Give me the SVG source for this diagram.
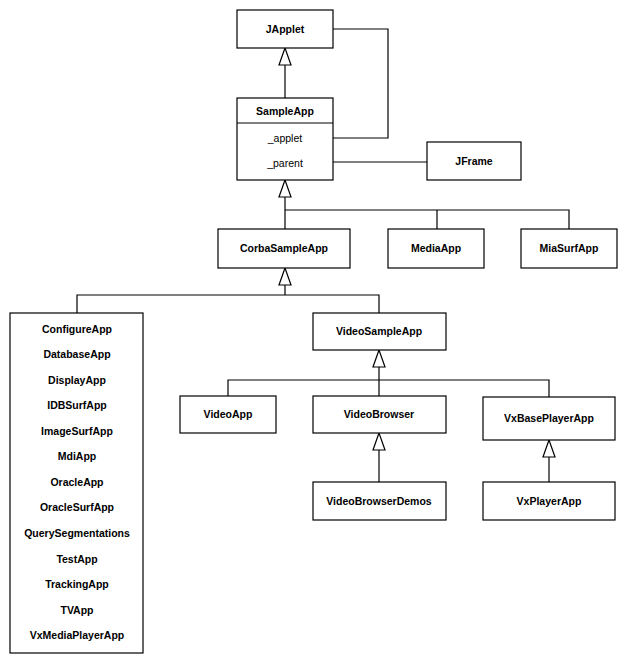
<svg xmlns="http://www.w3.org/2000/svg" width="626" height="664" viewBox="0 0 626 664">
<defs>
<style>
.box{fill:#fff;stroke:#000;stroke-width:1.2}
.ln{fill:none;stroke:#000;stroke-width:1.2}
.tri{fill:#fff;stroke:#000;stroke-width:1.2}
text{font-family:"Liberation Sans",Arial,sans-serif;font-size:10.5px;font-weight:bold;text-anchor:middle;fill:#000}
text.n{font-weight:normal}
</style>
</defs>
<rect width="626" height="664" fill="#fff"/>
<g id="connectors">
<path class="ln" d="M285,65 V98"/>
<path class="tri" d="M285,48 L279,65 L291,65 Z"/>
<path class="ln" d="M333,29 H388 V138 H333"/>
<path class="ln" d="M333,162 H427"/>
<path class="ln" d="M285,197 V229 M285,210 H569 V229 M437,210 V229"/>
<path class="tri" d="M285,180 L279,197 L291,197 Z"/>
<path class="ln" d="M285,285 V295 M77,313 V295 H379 V313"/>
<path class="tri" d="M285,268 L279,285 L291,285 Z"/>
<path class="ln" d="M379,367 V396 M228,396 V380 H549 V397"/>
<path class="tri" d="M379,350 L373,367 L385,367 Z"/>
<path class="ln" d="M379,450 V482"/>
<path class="tri" d="M379,433 L373,450 L385,450 Z"/>
<path class="ln" d="M549,457 V482"/>
<path class="tri" d="M549,440 L543,457 L555,457 Z"/>
</g>
<g id="JApplet"><rect class="box" x="237" y="10" width="96" height="38"/><text x="285" y="33">JApplet</text></g>
<g id="SampleApp"><rect class="box" x="237" y="98" width="96" height="82"/><line class="ln" x1="237" y1="123" x2="333" y2="123"/><text x="285" y="115">SampleApp</text><text class="n" x="285" y="142">_applet</text><text class="n" x="285" y="167">_parent</text></g>
<g id="JFrame"><rect class="box" x="427" y="142" width="94" height="38"/><text x="474" y="165">JFrame</text></g>
<g id="CorbaSampleApp"><rect class="box" x="218" y="229" width="132" height="39"/><text x="284" y="252">CorbaSampleApp</text></g>
<g id="MediaApp"><rect class="box" x="388" y="229" width="96" height="39"/><text x="436" y="252">MediaApp</text></g>
<g id="MiaSurfApp"><rect class="box" x="521" y="229" width="96" height="39"/><text x="569" y="252">MiaSurfApp</text></g>
<g id="AppList"><rect class="box" x="10" y="313" width="133" height="340"/>
<text x="77" y="333">ConfigureApp</text>
<text x="77" y="358">DatabaseApp</text>
<text x="77" y="384">DisplayApp</text>
<text x="77" y="409">IDBSurfApp</text>
<text x="77" y="435">ImageSurfApp</text>
<text x="77" y="460">MdiApp</text>
<text x="77" y="486">OracleApp</text>
<text x="77" y="511">OracleSurfApp</text>
<text x="77" y="537">QuerySegmentations</text>
<text x="77" y="563">TestApp</text>
<text x="77" y="588">TrackingApp</text>
<text x="77" y="614">TVApp</text>
<text x="77" y="639">VxMediaPlayerApp</text>
</g>
<g id="VideoSampleApp"><rect class="box" x="313" y="313" width="133" height="37"/><text x="379" y="335">VideoSampleApp</text></g>
<g id="VideoApp"><rect class="box" x="180" y="396" width="96" height="37"/><text x="228" y="418">VideoApp</text></g>
<g id="VideoBrowser"><rect class="box" x="313" y="396" width="133" height="37"/><text x="379" y="418">VideoBrowser</text></g>
<g id="VxBasePlayerApp"><rect class="box" x="483" y="397" width="132" height="43"/><text x="549" y="422">VxBasePlayerApp</text></g>
<g id="VideoBrowserDemos"><rect class="box" x="313" y="482" width="133" height="38"/><text x="379" y="505">VideoBrowserDemos</text></g>
<g id="VxPlayerApp"><rect class="box" x="483" y="482" width="132" height="38"/><text x="549" y="505">VxPlayerApp</text></g>
</svg>
